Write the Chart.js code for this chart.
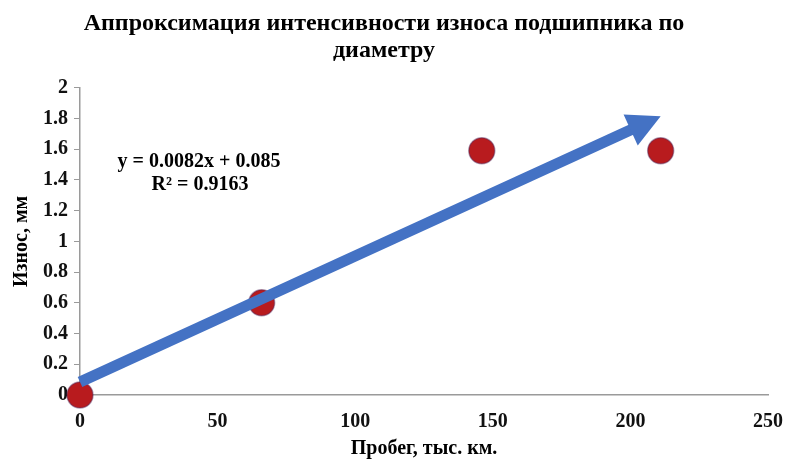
<!DOCTYPE html>
<html lang="ru">
<head>
  <meta charset="UTF-8">
  <title>Износ подшипника</title>
  <script src="https://cdn.jsdelivr.net/npm/chart.js"></script>
  <style>
    html, body { margin: 0; padding: 0; background: #fff; }
    #chart-container { width: 789px; height: 459px; }
  </style>
</head>
<body>
  <div id="chart-container">
    <canvas id="wearChart" width="789" height="459"></canvas>
  </div>
  <script>
    // Data
    const mileage = [0, 66, 146, 211];          // тыс. км
    const wear = [0, 0.6, 1.59, 1.59];           // мм
    const trendCoef = [0.0082, 0.085];           // slope, intercept
    const trendRange = [0, 211];                 // x span of the arrow
    const equationLines = ['y = 0.0082x + 0.085', 'R² = 0.9163'];
    const xTicks = [0, 50, 100, 150, 200, 250];
    const yTicks = [0, 0.2, 0.4, 0.6, 0.8, 1, 1.2, 1.4, 1.6, 1.8, 2];

    const serif = '"Liberation Serif", "Times New Roman", serif';

    // Trend arrow and equation, drawn through the chart scales (on top of the points)
    const trendArrowPlugin = {
      id: 'trendArrow',
      afterDatasetsDraw(chart) {
        const { ctx, scales: { x, y } } = chart;
        const x0 = x.getPixelForValue(trendRange[0]);
        const y0 = y.getPixelForValue(trendCoef[0] * trendRange[0] + trendCoef[1]);
        const x1 = x.getPixelForValue(trendRange[1]);
        const y1 = y.getPixelForValue(trendCoef[0] * trendRange[1] + trendCoef[1]);
        const ang = Math.atan2(y1 - y0, x1 - x0);
        const headLen = 33, headW = 17;
        const bx = x1 - headLen * Math.cos(ang), by = y1 - headLen * Math.sin(ang);
        ctx.save();
        ctx.strokeStyle = '#4472C4';
        ctx.fillStyle = '#4472C4';
        ctx.lineWidth = 11;
        ctx.beginPath();
        ctx.moveTo(x0, y0);
        ctx.lineTo(bx + 4 * Math.cos(ang), by + 4 * Math.sin(ang));
        ctx.stroke();
        ctx.beginPath();
        ctx.moveTo(x1, y1);
        ctx.lineTo(bx + headW * Math.sin(ang), by - headW * Math.cos(ang));
        ctx.lineTo(bx - headW * Math.sin(ang), by + headW * Math.cos(ang));
        ctx.closePath();
        ctx.fill();

        ctx.fillStyle = '#000';
        ctx.font = 'bold 20px ' + serif;
        ctx.textAlign = 'center';
        ctx.textBaseline = 'middle';
        ctx.fillText(equationLines[0], 199, 162);
        ctx.fillText(equationLines[1], 200, 185);
        ctx.restore();
      }
    };

    const ctx = document.getElementById('wearChart').getContext('2d');
    new Chart(ctx, {
      type: 'scatter',
      data: {
        datasets: [{
          label: 'Износ',
          data: mileage.map((m, i) => ({ x: m, y: wear[i] })),
          backgroundColor: '#B81B1E',
          borderColor: 'rgba(80,40,90,0.45)',
          borderWidth: 1.5,
          pointRadius: 13,
          pointHoverRadius: 13,
          clip: false
        }]
      },
      options: {
        responsive: false,
        animation: false,
        maintainAspectRatio: false,
        layout: { padding: { left: 0, right: 21, top: 0, bottom: 0 } },
        plugins: {
          legend: { display: false },
          tooltip: { enabled: false },
          title: {
            display: true,
            text: ['Аппроксимация интенсивности износа подшипника по', 'диаметру'],
            color: '#000',
            font: { family: serif, size: 24, weight: 'bold', lineHeight: 1.1 },
            padding: { top: 11, bottom: 24 }
          }
        },
        scales: {
          x: {
            type: 'linear',
            min: 0,
            max: 250,
            afterBuildTicks: s => { s.ticks = xTicks.map(v => ({ value: v })); },
            afterFit: s => { s.height = 64; s.paddingLeft = 0; s.paddingRight = 0; },
            grid: { display: true, drawOnChartArea: false, drawTicks: false, color: '#9a9a9a' },
            border: { color: '#9a9a9a', width: 1.5 },
            ticks: { color: '#111', padding: 15, font: { family: serif, size: 20, weight: 'bold' } },
            title: {
              display: true,
              text: 'Пробег, тыс. км.',
              color: '#000',
              font: { family: serif, size: 20, weight: 'bold', lineHeight: 1.1 },
              padding: { top: 4, bottom: -1 }
            }
          },
          y: {
            min: 0,
            max: 2,
            afterBuildTicks: s => { s.ticks = yTicks.map(v => ({ value: v })); },
            afterFit: s => { s.width = 80; },
            grid: { display: true, drawOnChartArea: false, tickLength: 6, color: '#9a9a9a' },
            border: { color: '#9a9a9a', width: 1.5 },
            ticks: {
              color: '#111',
              padding: 6,
              font: { family: serif, size: 20, weight: 'bold' },
              callback: v => String(Math.round(v * 10) / 10)
            },
            title: {
              display: true,
              text: 'Износ, мм',
              color: '#000',
              font: { family: serif, size: 20, weight: 'bold', lineHeight: 1.1 },
              padding: { top: 11, bottom: 0 }
            }
          }
        }
      },
      plugins: [trendArrowPlugin]
    });
  </script>
</body>
</html>
